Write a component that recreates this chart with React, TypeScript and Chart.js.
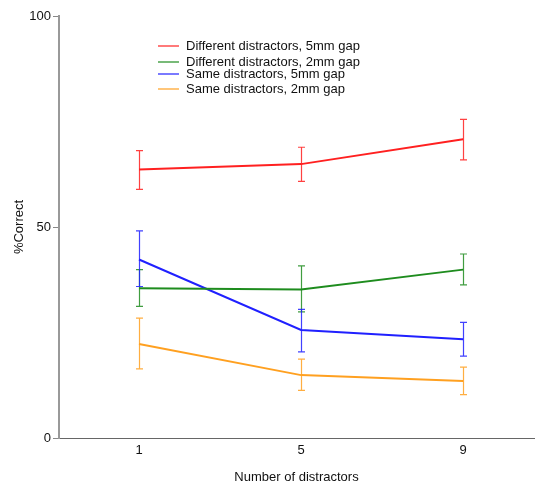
import React, { useEffect, useRef } from 'react';
import { Chart, registerables } from 'chart.js';
Chart.register(...registerables);

// ---- data ----
const categories = [1, 5, 9];
const yTicks = [0, 50, 100];
const seriesLabels = [
  'Different distractors, 5mm gap',
  'Different distractors, 2mm gap',
  'Same distractors, 5mm gap',
  'Same distractors, 2mm gap',
];
const diff5 = [63.6, 64.9, 70.8];
const diff5Hi = [68.1, 68.9, 75.5];
const diff5Lo = [58.9, 60.8, 65.9];
const diff2 = [35.5, 35.2, 39.9];
const diff2Hi = [39.9, 40.8, 43.6];
const diff2Lo = [31.2, 29.9, 36.3];
const same5 = [42.3, 25.6, 23.4];
const same5Hi = [49.1, 30.5, 27.4];
const same5Lo = [35.9, 20.4, 19.4];
const same2 = [22.3, 14.9, 13.5];
const same2Hi = [28.4, 18.7, 16.8];
const same2Lo = [16.4, 11.3, 10.3];

const colors = ['#ff2020', '#1e8c1e', '#2020ff', '#ffa020'];
const FONT = "'Liberation Sans', Arial, sans-serif";

const errorBarPlugin = {
  id: 'errorBars',
  afterDatasetsDraw(chart: any) {
    const ctx = chart.ctx;
    const y = chart.scales.y;
    chart.data.datasets.forEach((ds: any, di: number) => {
      const meta = chart.getDatasetMeta(di);
      ctx.save();
      ctx.strokeStyle = colors[di];
      ctx.globalAlpha = 0.85;
      ctx.lineWidth = 1.2;
      meta.data.forEach((pt: any, i: number) => {
        const x = Math.round(pt.x) + 0.5;
        const yh = y.getPixelForValue(ds.errHi[i]);
        const yl = y.getPixelForValue(ds.errLo[i]);
        ctx.beginPath();
        ctx.moveTo(x, yh);
        ctx.lineTo(x, yl);
        ctx.moveTo(x - 3.5, yh);
        ctx.lineTo(x + 3.5, yh);
        ctx.moveTo(x - 3.5, yl);
        ctx.lineTo(x + 3.5, yl);
        ctx.stroke();
      });
      ctx.restore();
    });
  },
};

const legendPlugin = {
  id: 'insideLegend',
  afterDraw(chart: any) {
    const ctx = chart.ctx;
    const rows = [46, 62, 74, 89];
    ctx.save();
    ctx.font = `13px ${FONT}`;
    ctx.textBaseline = 'middle';
    ctx.textAlign = 'left';
    chart.data.datasets.forEach((ds: any, i: number) => {
      const yy = rows[i];
      ctx.strokeStyle = colors[i];
      ctx.lineWidth = 1.2;
      ctx.beginPath();
      ctx.moveTo(158, yy);
      ctx.lineTo(179, yy);
      ctx.stroke();
      ctx.fillStyle = '#111';
      ctx.fillText(ds.label, 186, rows[i] + 0.5);
    });
    ctx.restore();
  },
};

export default function App() {
  const ref = useRef<HTMLCanvasElement>(null);
  useEffect(() => {
    if (!ref.current) return;
    const vals = [diff5, diff2, same5, same2];
    const his = [diff5Hi, diff2Hi, same5Hi, same2Hi];
    const los = [diff5Lo, diff2Lo, same5Lo, same2Lo];
    const chart = new Chart(ref.current, {
      type: 'line',
      data: {
        datasets: seriesLabels.map((label, k) => ({
          label,
          data: categories.map((c, i) => ({ x: c, y: vals[k][i] })),
          errHi: his[k],
          errLo: los[k],
          borderColor: colors[k],
          backgroundColor: colors[k],
          borderWidth: 2,
          pointRadius: 0,
          fill: false,
          tension: 0,
        })) as any,
      },
      options: {
        animation: false,
        responsive: false,
        maintainAspectRatio: false,
        devicePixelRatio: 1,
        layout: { padding: { top: 16, right: 1, left: 0, bottom: 0 } },
        plugins: { legend: { display: false }, tooltip: { enabled: false } },
        scales: {
          x: {
            type: 'linear',
            min: -0.975,
            max: 10.75,
            afterBuildTicks: (s: any) => {
              s.ticks = categories.map((v) => ({ value: v }));
            },
            afterFit: (s: any) => {
              s.height = 47;
            },
            grid: { display: false, drawTicks: false },
            border: { display: true, color: '#666', width: 1 },
            ticks: { color: '#111', font: { family: FONT, size: 13 }, padding: 5, autoSkip: false, maxRotation: 0 },
            title: {
              display: true,
              text: 'Number of distractors',
              color: '#111',
              font: { family: FONT, size: 13 },
              padding: { top: 6, bottom: 0 },
            },
          },
          y: {
            type: 'linear',
            min: 0,
            max: 100,
            afterBuildTicks: (s: any) => {
              s.ticks = yTicks.map((v) => ({ value: v }));
            },
            afterFit: (s: any) => {
              s.width = 59;
            },
            grid: { display: true, drawOnChartArea: false, drawTicks: true, tickLength: 6, color: '#888', lineWidth: 1 },
            border: { display: true, color: '#999', width: 2 },
            ticks: { color: '#111', font: { family: FONT, size: 13 }, padding: 2 },
            title: {
              display: true,
              text: '%Correct',
              color: '#111',
              font: { family: FONT, size: 13 },
              padding: { top: 12, bottom: 0 },
            },
          },
        },
      } as any,
      plugins: [errorBarPlugin, legendPlugin],
    });
    return () => chart.destroy();
  }, []);
  return (
    <div style={{ position: 'absolute', left: 0, top: 0, width: 535, height: 485, background: '#fff' }}>
      <canvas ref={ref} width={535} height={485} style={{ display: 'block' }} />
    </div>
  );
}
